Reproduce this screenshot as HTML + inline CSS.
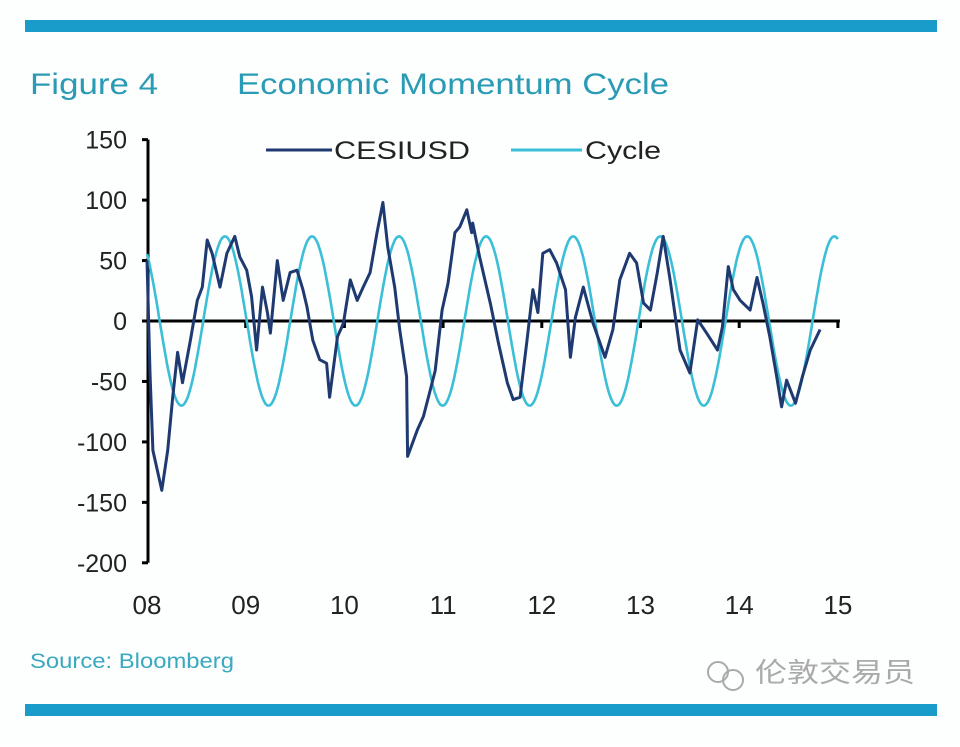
<!DOCTYPE html>
<html><head><meta charset="utf-8"><style>
html,body{margin:0;padding:0;background:#fff;}
body{width:960px;height:742px;position:relative;overflow:hidden;font-family:"Liberation Sans","Noto Sans CJK SC",sans-serif;}
</style></head><body>
<svg width="960" height="742" viewBox="0 0 960 742" xmlns="http://www.w3.org/2000/svg">
<rect x="0" y="0" width="960" height="742" fill="#fdfefe"/>
<rect x="25" y="20" width="912" height="12" fill="#1a9cca"/>
<rect x="25" y="704" width="912" height="12" fill="#1a9cca"/>
<text x="30" y="94" font-size="30" fill="#2a9bb4" textLength="128" lengthAdjust="spacingAndGlyphs">Figure 4</text>
<text x="237" y="94" font-size="30" fill="#2a9bb4" textLength="432" lengthAdjust="spacingAndGlyphs">Economic Momentum Cycle</text>
<g>
<line x1="266" y1="150" x2="332" y2="150" stroke="#1f3a70" stroke-width="3"/>
<text x="334" y="159" font-size="25" fill="#222" textLength="136" lengthAdjust="spacingAndGlyphs">CESIUSD</text>
<line x1="511" y1="150" x2="582" y2="150" stroke="#3bbfd6" stroke-width="3"/>
<text x="585" y="159" font-size="25" fill="#222" textLength="76" lengthAdjust="spacingAndGlyphs">Cycle</text>
</g>
<g id="axes"></g>
<g id="series"></g>
<text x="30" y="668" font-size="21" fill="#3aa9c0" textLength="204" lengthAdjust="spacingAndGlyphs">Source: Bloomberg</text>
<g fill="none" stroke="#aaa" stroke-width="2">
<circle cx="718" cy="672" r="10"/><circle cx="733" cy="680" r="10"/>
</g>
<text x="755" y="682" font-size="27" fill="#aaa" textLength="160" lengthAdjust="spacingAndGlyphs">伦敦交易员</text>
</svg>
<script>
const yTicks=[150,100,50,0,-50,-100,-150,-200];
const xTickLabels=["08","09","10","11","12","13","14","15"];
const cesiDates=[0,0.03,0.06,0.15,0.21,0.26,0.31,0.36,0.44,0.51,0.56,0.61,0.66,0.74,0.81,0.89,0.94,1.01,1.06,1.11,1.17,1.22,1.25,1.32,1.38,1.45,1.52,1.58,1.62,1.68,1.75,1.82,1.85,1.93,1.99,2.06,2.13,2.19,2.26,2.33,2.39,2.44,2.51,2.56,2.63,2.64,2.74,2.80,2.87,2.92,2.99,3.05,3.12,3.17,3.24,3.29,3.30,3.37,3.48,3.56,3.65,3.71,3.78,3.85,3.91,3.96,4.01,4.08,4.15,4.24,4.29,4.34,4.42,4.52,4.64,4.72,4.79,4.89,4.96,5.03,5.10,5.17,5.23,5.30,5.40,5.50,5.58,5.67,5.78,5.83,5.89,5.94,6.01,6.11,6.18,6.24,6.31,6.38,6.43,6.48,6.57,6.64,6.72,6.82];
const cesiValues=[50,-43,-107,-140,-107,-63,-26,-51,-16,17,28,67,56,28,56,70,53,42,20,-24,28,7,-10,50,17,40,42,26,12,-16,-32,-35,-63,-13,-2,34,17,28,40,73,98,61,28,-7,-46,-112,-90,-79,-57,-41,9,31,73,78,92,73,81,53,14,-18,-51,-65,-63,-16,26,7,56,59,48,26,-30,3,28,-2,-30,-7,34,56,48,15,9,40,70,34,-24,-43,1,-10,-24,-5,45,26,17,9,36,15,-13,-46,-71,-49,-68,-46,-24,-7];
const cycleAmplitude=[70];
const cyclePeriod=[0.882];
const cyclePeakAt=[0.79];

const NS="http://www.w3.org/2000/svg";
const X0=147,XW=98.7,Y0=321,YS=1.209;
const xs=t=>X0+t*XW, ys=v=>Y0-v*YS;
function mk(tag,attrs,parent){const e=document.createElementNS(NS,tag);for(const k in attrs)e.setAttribute(k,attrs[k]);parent.appendChild(e);return e;}
const ax=document.getElementById('axes'), se=document.getElementById('series');
let e=mk('line',{x1:148,y1:ys(150),x2:148,y2:ys(-200),stroke:'#000','stroke-width':3},ax);


yTicks.forEach(v=>{
 let t=mk('line',{x1:142,y1:ys(v),x2:148,y2:ys(v),stroke:'#000','stroke-width':3},ax);
 
 
 let l=mk('text',{x:127,y:ys(v)+9,'font-size':25,'text-anchor':'end',fill:'#222'},ax);
 l.textContent=String(v);
 
 
});
e=mk('line',{x1:147,y1:ys(0),x2:xs(7)+2,y2:ys(0),stroke:'#000','stroke-width':3},ax);


xTickLabels.forEach((s,i)=>{
 if(i>0){let t=mk('line',{x1:xs(i),y1:ys(0),x2:xs(i),y2:ys(0)+7,stroke:'#000','stroke-width':3},ax);
 
 }
 let l=mk('text',{x:xs(i),y:614,'font-size':26,'text-anchor':'middle',fill:'#222'},ax);
 l.textContent=s;
 
 
});
let cp=[];
for(let i=0;i<=700;i++){const t=i/100;const v=cycleAmplitude[0]*Math.cos(2*Math.PI*(t-cyclePeakAt[0])/cyclePeriod[0]);cp.push(xs(t).toFixed(1)+','+ys(v).toFixed(1));}
e=mk('polyline',{points:cp.join(' '),fill:'none',stroke:'#3bbfd6','stroke-width':2.6},se);


e=mk('polyline',{points:cesiDates.map((d,i)=>xs(d).toFixed(1)+','+ys(cesiValues[i]).toFixed(1)).join(' '),fill:'none',stroke:'#1f3a70','stroke-width':3,'stroke-linejoin':'round'},se);


</script>
</body></html>
